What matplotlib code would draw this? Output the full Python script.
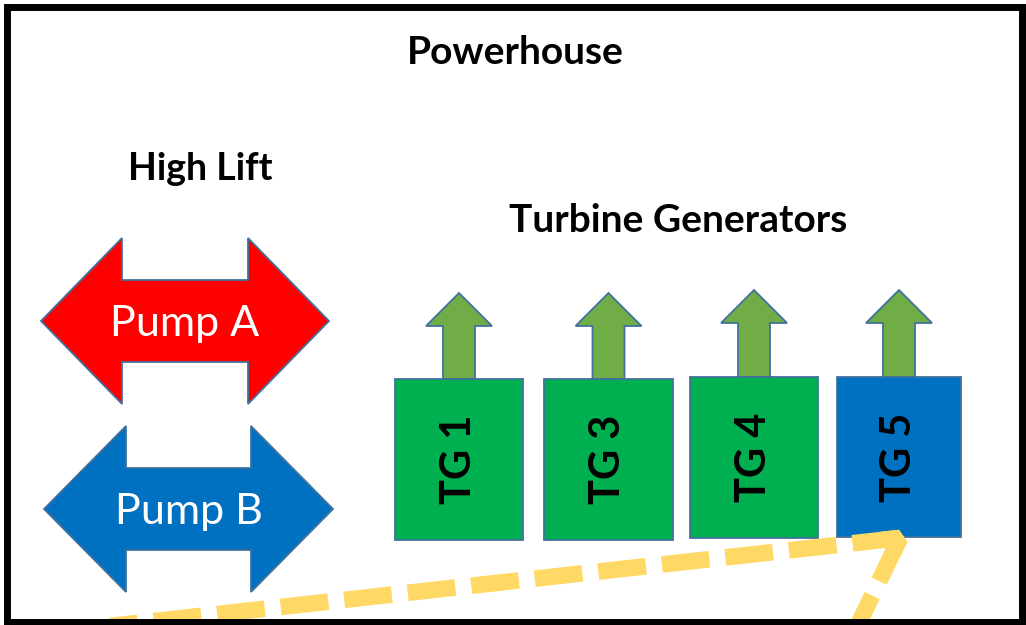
import matplotlib
matplotlib.use("Agg")
import matplotlib.pyplot as plt
from matplotlib.patches import Polygon, Rectangle

# pump double arrows: label, fill, left tip, head base left, head base right, right tip, centre y
pump_labels = ["Pump A", "Pump B"]
pump_colors = ["#FF0000", "#0070C0"]
pump_tip_l = [41, 44]
pump_base_l = [122, 126]
pump_base_r = [248, 251]
pump_tip_r = [329, 333]
pump_cy = [321, 509]

# turbine generator boxes
tg_labels = ["TG 1", "TG 3", "TG 4", "TG 5"]
tg_colors = ["#00B050", "#00B050", "#00B050", "#0070C0"]
tg_left = [395, 544, 690, 837]
tg_right = [523, 673, 818, 961]
tg_top = [379, 379, 377, 377]
tg_bottom = [540, 540, 538, 537]
arrow_tip = [293, 293, 290, 290]

# dashed route, both legs drawn out from the corner
corner = (900, 538)
leg_a = ([900, 20], [538, 636])
leg_b = ([900, 841], [538, 660])

edge = "#41719C"
gold = "#FFD966"
plt.rcParams['font.family'] = ['Lato', 'DejaVu Sans']

fig = plt.figure(figsize=(10.26, 6.25), dpi=100)
ax = fig.add_axes([0, 0, 1, 1])
ax.set_xlim(0, 1026)
ax.set_ylim(625, 0)
ax.axis("off")

ax.add_patch(Rectangle((6.7, 6.7), 1015.5, 614.8, fill=False, edgecolor="black", lw=5, zorder=6))

ax.text(515, 64, "Powerhouse", ha="center", va="baseline", fontsize=28, fontweight="bold")
ax.text(200, 180, "High Lift", ha="center", va="baseline", fontsize=27, fontweight="bold")
ax.text(678, 232, "Turbine Generators", ha="center", va="baseline", fontsize=28, fontweight="bold")

for lab, col, tl, bl, br, tr, cy in zip(pump_labels, pump_colors, pump_tip_l, pump_base_l,
                                        pump_base_r, pump_tip_r, pump_cy):
    hh, sh = 83, 41
    pts = [(tl, cy), (bl, cy - hh), (bl, cy - sh), (br, cy - sh), (br, cy - hh), (tr, cy),
           (br, cy + hh), (br, cy + sh), (bl, cy + sh), (bl, cy + hh)]
    ax.add_patch(Polygon(pts, closed=True, facecolor=col, edgecolor=edge, lw=1.3, zorder=2))
    ax.text((tl + tr) / 2, cy + 15, lab, ha="center", va="baseline", color="white", fontsize=31)

for lab, col, l, r, t, b, tip in zip(tg_labels, tg_colors, tg_left, tg_right, tg_top,
                                     tg_bottom, arrow_tip):
    cx = (l + r) / 2
    base = tip + 33
    pts = [(cx, tip), (cx + 33, base), (cx + 16, base), (cx + 16, t), (cx - 16, t),
           (cx - 16, base), (cx - 33, base)]
    ax.add_patch(Polygon(pts, closed=True, facecolor="#70AD47", edgecolor=edge, lw=1.3, zorder=2))
    ax.add_patch(Rectangle((l, t), r - l, b - t, facecolor=col, edgecolor=edge, lw=1.3, zorder=3))
    ax.text(cx, (t + b) / 2, lab, ha="center", va="center", rotation=90, fontsize=30,
            fontweight="bold", zorder=4)

dash = (0, (2.875, 0.96))
for xs, ys in (leg_a, leg_b):
    ax.plot(xs, ys, color=gold, lw=12, linestyle=dash, dash_capstyle="butt", zorder=5)
# bevelled corner piece
ax.plot([corner[0] - 20, corner[0], corner[0] - 8], [corner[1] + 2.2, corner[1], corner[1] + 16.5],
        color=gold, lw=12, solid_joinstyle="bevel", solid_capstyle="butt", zorder=5)

fig.savefig("out.png", dpi=100)
